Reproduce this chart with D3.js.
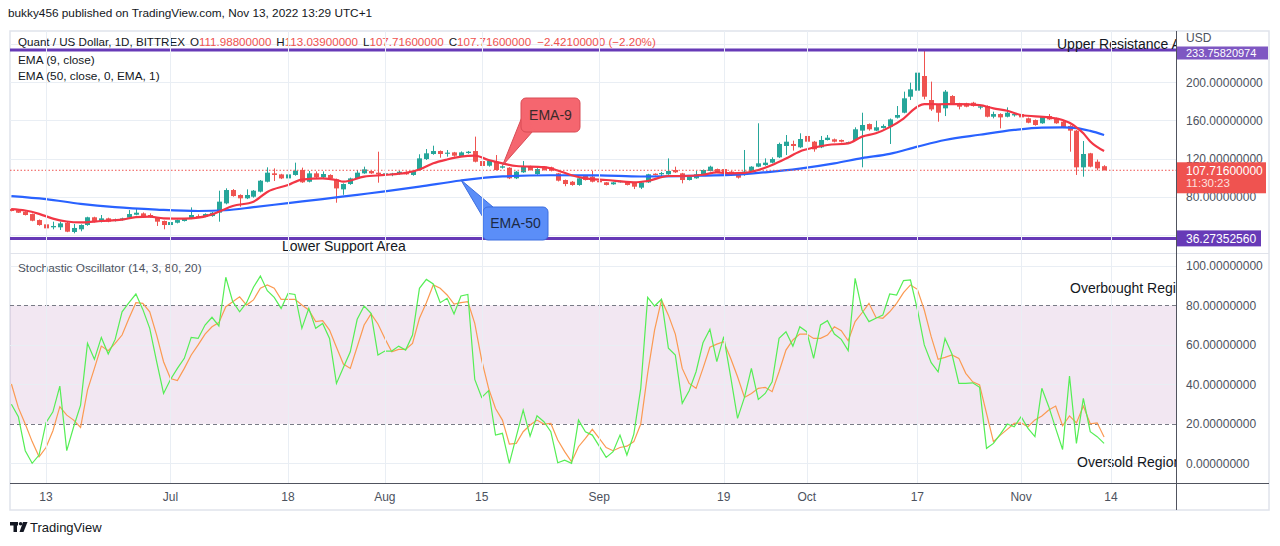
<!DOCTYPE html>
<html>
<head>
<meta charset="utf-8">
<script src="https://cdn.jsdelivr.net/npm/d3@7"></script>
<style>
  body { margin: 0; background: #fff; }
  svg text { font-family: "Liberation Sans", Arial, sans-serif; }
</style>
</head>
<body>
<div id="chart"></div>
<script>
// daily candles, Jun 8 .. Nov 13 2022
var firstDay = '2022-06-08';

var opens = [
  67.1, 65.9, 64.3, 61.8, 55.5, 51.0, 47.9, 47.9, 52.7, 43.0,
  45.8, 50.3, 58.4, 53.8, 57.3, 54.5, 55.5, 58.0, 61.1, 62.5,
  60.8, 58.0, 54.5, 50.3, 52.7, 54.5, 57.0, 59.7, 59.0, 59.7,
  63.3, 73.0, 87.0, 81.8, 78.3, 80.0, 85.3, 95.7, 104.5, 103.4,
  99.2, 102.8, 108.0, 95.7, 104.5, 100.3, 102.8, 98.2, 87.7, 93.3,
  99.2, 104.5, 106.9, 105.2, 102.8, 103.8, 103.8, 105.6, 102.8, 108.0,
  119.5, 124.8, 127.9, 125.0, 126.5, 122.7, 125.8, 127.9, 117.4, 112.5,
  116.7, 110.4, 110.4, 99.3, 105.6, 111.5, 103.8, 111.5, 110.8, 104.5,
  97.5, 95.7, 92.3, 101.7, 101.0, 96.5, 95.1, 93.0, 95.1, 95.7,
  95.0, 89.5, 95.0, 104.1, 103.5, 103.5, 108.0, 104.5, 97.5, 99.3,
  103.5, 107.0, 109.0, 109.0, 106.3, 104.5, 102.8, 106.3, 111.5, 113.2,
  115.7, 121.3, 133.2, 135.3, 131.8, 143.7, 137.7, 131.8, 139.5, 140.2,
  139.5, 136.0, 139.5, 149.3, 156.2, 149.3, 152.1, 153.5, 162.9, 168.1,
  184.9, 191.2, 206.6, 181.4, 176.2, 172.7, 185.6, 177.9, 177.9, 178.6,
  173.4, 175.1, 163.9, 166.7, 163.9, 165.3, 166.7, 162.2, 160.4, 157.0,
  164.6, 162.2, 158.7, 154.2, 149.3, 110.8, 125.5, 116.7, 111.988
];
var highs = [
  67.8, 66.4, 64.8, 62.3, 56.1, 51.6, 53.8, 53.8, 53.5, 51.4,
  51.0, 59.0, 59.0, 60.8, 58.0, 57.0, 58.0, 66.0, 67.1, 63.5,
  62.5, 58.5, 55.0, 58.4, 56.0, 57.5, 68.8, 61.5, 62.5, 64.0,
  86.3, 88.8, 88.0, 82.5, 87.7, 87.0, 97.5, 110.8, 109.7, 104.0,
  104.2, 115.7, 110.5, 107.0, 106.5, 106.5, 103.5, 99.0, 94.0, 100.0,
  108.0, 111.5, 107.5, 127.2, 105.5, 105.0, 107.0, 106.5, 108.0, 124.5,
  130.0, 133.5, 128.5, 129.0, 127.0, 127.5, 128.0, 143.0, 118.0, 118.5,
  123.7, 112.5, 111.0, 107.0, 117.4, 112.5, 110.0, 112.0, 111.5, 105.0,
  98.0, 96.5, 100.0, 102.5, 107.0, 97.0, 95.5, 95.5, 96.8, 96.0,
  95.5, 95.5, 104.0, 104.5, 106.0, 120.2, 111.5, 105.0, 101.5, 107.0,
  108.5, 112.5, 109.5, 109.5, 107.0, 106.0, 129.0, 112.0, 157.0, 120.2,
  121.3, 136.7, 144.7, 138.8, 146.5, 145.0, 138.5, 143.7, 144.7, 141.0,
  140.0, 137.8, 152.8, 168.1, 156.8, 159.7, 155.9, 162.0, 175.1, 190.2,
  199.6, 233.9, 233.2, 200.7, 177.0, 191.9, 186.5, 178.5, 178.5, 179.5,
  176.2, 175.8, 169.2, 167.5, 173.7, 168.0, 168.0, 163.0, 161.0, 164.5,
  166.7, 163.0, 159.5, 155.0, 150.0, 138.4, 126.0, 119.0, 113.039
];
var lows = [
  64.6, 62.9, 60.3, 54.2, 49.6, 42.2, 45.8, 45.1, 42.8, 41.6,
  43.7, 49.5, 53.0, 53.0, 53.2, 54.0, 55.0, 57.5, 60.5, 58.0,
  58.0, 49.3, 45.8, 49.8, 52.0, 54.0, 56.5, 58.0, 58.5, 59.0,
  53.8, 72.0, 80.0, 69.5, 77.5, 79.0, 84.5, 95.0, 96.5, 98.5,
  98.5, 102.0, 94.5, 95.0, 99.5, 99.5, 98.5, 73.7, 82.0, 92.5,
  98.5, 104.0, 104.0, 94.7, 102.0, 101.5, 103.0, 103.0, 102.0, 107.5,
  118.5, 124.0, 120.9, 122.0, 122.0, 122.0, 125.0, 116.0, 111.5, 111.5,
  107.5, 109.5, 98.5, 98.5, 105.0, 107.5, 103.0, 107.5, 106.5, 96.0,
  91.0, 91.5, 91.5, 97.0, 95.0, 94.5, 91.8, 92.5, 94.8, 91.8,
  88.0, 88.0, 94.5, 102.3, 100.5, 103.0, 105.0, 94.0, 97.0, 98.8,
  103.0, 106.5, 104.8, 104.0, 102.3, 99.0, 102.0, 105.8, 111.0, 112.5,
  115.0, 120.5, 123.7, 128.3, 131.0, 137.0, 127.2, 131.0, 139.0, 137.0,
  137.0, 135.5, 139.0, 110.8, 149.3, 148.8, 151.5, 135.3, 162.0, 167.5,
  181.4, 189.0, 182.1, 170.0, 158.7, 164.6, 177.0, 171.6, 173.8, 174.5,
  171.6, 163.2, 162.2, 151.7, 163.2, 164.0, 162.5, 157.0, 154.5, 156.5,
  160.5, 156.5, 152.0, 127.2, 102.8, 101.0, 110.8, 107.7, 107.716
];
var closes = [
  65.0, 63.2, 60.8, 54.8, 50.3, 46.8, 49.3, 52.0, 43.3, 47.2,
  50.3, 58.4, 53.8, 57.3, 53.8, 56.2, 57.3, 61.8, 63.2, 58.4,
  58.4, 53.8, 50.3, 53.4, 55.5, 57.0, 60.8, 58.7, 61.8, 63.2,
  74.8, 87.0, 80.7, 78.3, 81.8, 86.3, 96.8, 105.2, 102.8, 99.2,
  103.4, 107.3, 95.1, 104.5, 100.3, 103.8, 99.2, 88.7, 93.3, 99.2,
  105.2, 108.7, 104.5, 103.4, 104.5, 104.3, 106.2, 103.5, 107.0, 120.2,
  125.5, 127.9, 124.8, 126.2, 123.0, 126.5, 127.2, 116.7, 112.2, 117.8,
  108.0, 111.9, 99.3, 106.3, 111.5, 108.0, 109.0, 108.0, 107.3, 96.8,
  93.3, 92.3, 99.3, 97.5, 95.7, 95.1, 92.3, 95.0, 96.5, 92.3,
  90.5, 95.0, 103.5, 102.8, 104.8, 107.0, 105.6, 97.5, 101.0, 103.5,
  108.0, 111.5, 105.2, 104.5, 102.8, 100.0, 106.3, 111.5, 115.0, 115.7,
  119.5, 135.3, 137.7, 133.2, 140.5, 137.7, 129.7, 139.5, 141.9, 137.7,
  137.7, 137.2, 150.7, 155.2, 150.7, 152.8, 154.2, 161.1, 165.7, 183.2,
  192.6, 210.1, 184.9, 171.6, 168.1, 190.2, 177.9, 174.4, 174.4, 175.1,
  174.8, 163.9, 166.7, 163.2, 168.1, 166.7, 163.2, 157.6, 155.2, 163.9,
  161.1, 157.0, 152.7, 149.3, 110.8, 124.8, 111.5, 109.7, 107.716
];

// EMA readings as [day index from firstDay, value]
var ema9Points = [
  [0, 67.0], [2, 65.5], [4, 62.0], [6, 57.0], [8, 54.0], [10, 53.0], [13, 54.5],
  [16, 56.0], [18, 58.5], [20, 59.0], [22, 57.3], [25, 57.0], [27, 58.0], [29, 61.5],
  [30, 64.3], [32, 70.2], [35, 74.8], [37, 85.0], [40, 92.3], [42, 98.0], [45, 99.3],
  [47, 97.5], [48, 95.8], [51, 101.0], [54, 102.8], [57, 105.0], [59, 108.5], [61, 115.0],
  [63, 119.0], [65, 122.0], [67, 123.0], [69, 118.5], [71, 115.0], [73, 112.2], [77, 111.0],
  [79, 107.5], [81, 102.5], [83, 99.3], [86, 97.5], [90, 95.1], [92, 96.5], [95, 101.7],
  [97, 101.7], [100, 103.0], [102, 105.5], [104, 104.5], [106, 105.0], [108, 108.0],
  [110, 113.2], [112, 120.0], [114, 127.5], [116, 131.5], [118, 134.2], [121, 136.0],
  [123, 143.0], [125, 146.5], [127, 153.0], [129, 162.0], [131, 174.4], [132, 177.2],
  [134, 177.0], [137, 177.2], [140, 176.0], [142, 172.7], [144, 170.2], [146, 165.7],
  [150, 163.2], [152, 160.5], [153, 157.5], [154, 152.8], [155, 146.5], [156, 138.0],
  [158, 128.0]
];
var ema50Points = [
  [0, 80.7], [5, 77.5], [10, 72.5], [15, 69.0], [21, 66.5], [27, 65.0], [31, 65.8],
  [35, 69.0], [40, 73.3], [45, 77.5], [50, 82.0], [54, 85.5], [59, 90.5], [65, 97.0],
  [71, 101.3], [78, 102.5], [85, 102.3], [91, 101.2], [99, 102.0], [104, 102.8],
  [109, 105.6], [114, 109.5], [119, 115.0], [123, 120.5], [127, 125.0], [131, 132.5],
  [135, 139.5], [140, 145.0], [145, 150.0], [149, 152.5], [152, 152.8], [154, 152.0],
  [156, 149.0], [158, 144.7]
];

var stochK = [
  29.9, 23.6, 6.4, 0, 4.2, 20.6, 26.1, 39.1, 6.4, 18.5,
  29.5, 60.8, 52.7, 63.8, 55.4, 62.8, 76.8, 81.4, 85.8, 78,
  68.4, 51.5, 35.4, 42.5, 48.1, 53.2, 63.8, 63.3, 70.1, 74,
  69.6, 94.3, 81.9, 76.8, 81.4, 89.2, 94.9, 87.5, 84.1, 78.5,
  86.1, 85.6, 68.4, 78.5, 68.4, 70.9, 63.3, 40.5, 48.6, 56.5,
  73, 79.7, 76, 54.9, 56.9, 56.9, 59.4, 57.4, 65, 88.7,
  93.2, 90.9, 81.4, 83.6, 75.7, 84.8, 85.6, 42.5, 33.4, 36.8,
  14.3, 15.2, 0, 13.5, 27, 13.8, 24.1, 21.1, 16, 0.3,
  1.6, 0, 21.9, 16, 14.3, 8.7, 3, 5.9, 14.3, 4.2,
  14.8, 38, 84.1, 79.7, 83.1, 58.3, 54.9, 30.4, 36.8, 46.4,
  61.1, 67.9, 51.5, 64.2, 43.9, 22.8, 33.4, 48.1, 32.4, 35.4,
  41.3, 63.3, 66.7, 59.4, 69.2, 66.7, 53.2, 70.1, 72.3, 65.5,
  62.8, 57.1, 93.7, 77.7, 71.8, 73.5, 75.1, 85.8, 85.3, 92.6,
  92.9, 78, 60, 51, 46.4, 63.3, 55.4, 40.5, 40.5, 40.8,
  38.5, 7.6, 10.1, 14.8, 19.9, 18.5, 23.6, 17.7, 13.5, 38,
  28.7, 17.7, 7, 44.2, 10.1, 32.9, 16, 13.5, 10.1
];
var stochD = [
  40.2, 28.2, 19.9, 11, 3.3, 8, 16.5, 28.7, 24.4, 21.9,
  18.2, 37.1, 48.1, 59.4, 57.1, 60.8, 65, 73.5, 81.4, 81.1,
  76.8, 65, 51.5, 43, 41.9, 48.1, 54.9, 60, 65.5, 69.2,
  71.3, 79.4, 81.9, 84.4, 80.2, 82.8, 88.7, 90.4, 88.7, 83.1,
  83.1, 83.1, 80.2, 77.7, 71.8, 72.3, 67.5, 58.8, 50.3, 48.1,
  59.1, 70.1, 75.7, 70.6, 63.3, 56.5, 57.7, 57.7, 60.8, 73.5,
  81.4, 90.4, 88.7, 85.3, 80.7, 81.4, 81.9, 70.9, 52.3, 38,
  27.8, 21.9, 9.7, 10.1, 16, 19.4, 21.9, 19.9, 20.2, 11.8,
  5.9, 0.8, 8.4, 12.6, 17.2, 12.6, 8, 6.4, 8, 8.7,
  11, 19.9, 45.6, 67.5, 82.8, 75.1, 65.5, 48.1, 40.5, 38,
  48.1, 58.8, 60.4, 61.6, 53.2, 43.9, 33.4, 35.4, 38, 38.5,
  36.3, 46.4, 57.4, 62.5, 65.5, 65.5, 63.3, 63.3, 65, 69.2,
  67.2, 62.1, 71.8, 76.3, 81.1, 74, 73.5, 76.8, 81.1, 86.5,
  90.4, 88.2, 77.7, 64.2, 52.7, 53.7, 54.9, 53.2, 45.6, 41.3,
  39.7, 25.3, 11, 14.3, 17.2, 20.2, 20.5, 18.5, 22, 24,
  27, 29, 19, 24, 20.5, 29, 20, 20.5, 13.3
];

var priceTicks = [80, 120, 160, 200];
var priceGrid = [40, 80, 120, 160, 200, 240];
var stochTicks = [0, 20, 40, 60, 80, 100];
var stochGrid = [0, 40, 60, 100];
var timeTicks = ['2022-06-13', '2022-07-01', '2022-07-18', '2022-08-01', '2022-08-15', '2022-09-01',
  '2022-09-19', '2022-10-01', '2022-10-17', '2022-11-01', '2022-11-14'];
var timeLabels = ['13', 'Jul', '18', 'Aug', '15', 'Sep', '19', 'Oct', '17', 'Nov', '14'];

var resistance = 233.75820974;
var support = 36.2735256;
var lastPrice = 107.716;

var svg = d3.select('#chart').append('svg').attr('width', 1280).attr('height', 546);

var left = 10, right = 1176, axisEnd = 1269,
  mainTop = 31, mainBottom = 253, stochBottom = 483, chartBottom = 510;

var parseDay = d3.utcParse('%Y-%m-%d');
var day0 = parseDay(firstDay);
var dayAt = function (i) { return d3.utcDay.offset(day0, i); };

var x = d3.scaleUtc()
  .domain([parseDay('2022-06-13'), parseDay('2022-11-14')])
  .range([46, 1111]);
var y = d3.scaleLinear().domain([80, 200]).range([196.7, 82.3]);
var ys = d3.scaleLinear().domain([0, 100]).range([463.3, 266]);

var bars = closes.map(function (c, i) {
  return { date: dayAt(i), o: opens[i], h: highs[i], l: lows[i], c: c };
});

var defs = svg.append('defs');
defs.append('clipPath').attr('id', 'clipMain').append('rect')
  .attr('x', left).attr('y', mainTop).attr('width', right - left).attr('height', mainBottom - mainTop);
defs.append('clipPath').attr('id', 'clipStoch').append('rect')
  .attr('x', left).attr('y', mainBottom).attr('width', right - left).attr('height', stochBottom - mainBottom);

// top caption
svg.append('text').attr('x', 8).attr('y', 17)
  .style('font-size', '11.8px').attr('fill', '#131722')
  .text('bukky456 published on TradingView.com, Nov 13, 2022 13:29 UTC+1');

// frame
svg.append('rect').attr('x', left).attr('y', mainTop)
  .attr('width', axisEnd - left).attr('height', chartBottom - mainTop)
  .attr('fill', '#fff').attr('stroke', '#e0e3eb').attr('stroke-width', 1.5);

var main = svg.append('g').attr('clip-path', 'url(#clipMain)');
var stoch = svg.append('g').attr('clip-path', 'url(#clipStoch)');

var gridColor = '#e9eef4';
var tickDates = timeTicks.map(parseDay);

// vertical grid
svg.append('g').selectAll('line').data(tickDates).enter().append('line')
  .attr('x1', function (d) { return Math.round(x(d)) + 0.5; })
  .attr('x2', function (d) { return Math.round(x(d)) + 0.5; })
  .attr('y1', mainTop).attr('y2', stochBottom)
  .attr('stroke', gridColor);

main.append('g').selectAll('line').data(priceGrid).enter().append('line')
  .attr('x1', left).attr('x2', right)
  .attr('y1', function (d) { return Math.round(y(d)) + 0.5; })
  .attr('y2', function (d) { return Math.round(y(d)) + 0.5; })
  .attr('stroke', gridColor);

// stochastic band and levels
stoch.append('rect')
  .attr('x', left).attr('width', right - left)
  .attr('y', ys(80)).attr('height', ys(20) - ys(80))
  .attr('fill', 'rgba(150, 60, 150, 0.12)');

stoch.append('g').selectAll('line').data(stochGrid).enter().append('line')
  .attr('x1', left).attr('x2', right)
  .attr('y1', function (d) { return Math.round(ys(d)) + 0.5; })
  .attr('y2', function (d) { return Math.round(ys(d)) + 0.5; })
  .attr('stroke', gridColor);

stoch.append('g').selectAll('line').data([80, 20]).enter().append('line')
  .attr('x1', left).attr('x2', right)
  .attr('y1', function (d) { return Math.round(ys(d)) + 0.5; })
  .attr('y2', function (d) { return Math.round(ys(d)) + 0.5; })
  .attr('stroke', '#787b86').attr('stroke-dasharray', '4,3');

// candles
var up = '#26a69a', down = '#ef5350';
main.append('g').selectAll('line').data(bars).enter().append('line')
  .attr('x1', function (d) { return Math.round(x(d.date)) + 0.5; })
  .attr('x2', function (d) { return Math.round(x(d.date)) + 0.5; })
  .attr('y1', function (d) { return y(d.h); })
  .attr('y2', function (d) { return y(d.l); })
  .attr('stroke', function (d) { return d.c >= d.o ? up : down; });

main.append('g').selectAll('rect').data(bars).enter().append('rect')
  .attr('x', function (d) { return Math.round(x(d.date)) - 2; })
  .attr('width', 5)
  .attr('y', function (d) { return y(Math.max(d.o, d.c)); })
  .attr('height', function (d) { return Math.max(1, y(Math.min(d.o, d.c)) - y(Math.max(d.o, d.c))); })
  .attr('fill', function (d) { return d.c >= d.o ? up : down; });

// EMAs
var emaLine = d3.line()
  .curve(d3.curveMonotoneX)
  .x(function (d) { return x(dayAt(d[0])); })
  .y(function (d) { return y(d[1]); });

main.append('path').datum(ema50Points)
  .attr('d', emaLine).attr('fill', 'none')
  .attr('stroke', '#2962ff').attr('stroke-width', 2.2);
main.append('path').datum(ema9Points)
  .attr('d', emaLine).attr('fill', 'none')
  .attr('stroke', '#f23645').attr('stroke-width', 2.2);

// last price
main.append('line')
  .attr('x1', left).attr('x2', right)
  .attr('y1', y(lastPrice)).attr('y2', y(lastPrice))
  .attr('stroke', '#ef5350').attr('stroke-dasharray', '1.5,2');

// horizontal drawings
main.selectAll('.level').data([resistance, support]).enter().append('line')
  .attr('class', 'level')
  .attr('x1', left).attr('x2', right)
  .attr('y1', function (d) { return y(d); })
  .attr('y2', function (d) { return y(d); })
  .attr('stroke', '#673ab7').attr('stroke-width', 3);

// label runs past the price scale, only this much shows
main.append('text').attr('x', 1057).attr('y', y(resistance) - 1.5)
  .style('font-size', '14px').attr('fill', '#131722')
  .text('Upper Resistance A');
main.append('text').attr('x', 282).attr('y', y(support) + 12.5)
  .style('font-size', '14px').attr('fill', '#131722')
  .text('Lower Support Area');

// callouts
var ema9Tip = [dayAt(71), 112.5];
main.append('path')
  .attr('d', 'M' + x(ema9Tip[0]) + ',' + y(ema9Tip[1]) + 'L524,112L533,131Z')
  .attr('fill', '#f5666f').attr('stroke', '#d94b55');
main.append('rect').attr('x', 521).attr('y', 98).attr('width', 59).attr('height', 34).attr('rx', 5)
  .attr('fill', '#f5666f').attr('stroke', '#d94b55');
main.append('path')
  .attr('d', 'M533.5,131L523.5,112.5')
  .attr('stroke', '#f5666f').attr('stroke-width', 2);
main.append('text').attr('x', 550.5).attr('y', 119.5).attr('text-anchor', 'middle')
  .style('font-size', '14px').attr('fill', '#3a2a2a').text('EMA-9');

var ema50Tip = [dayAt(65), 97.6];
main.append('path')
  .attr('d', 'M' + x(ema50Tip[0]) + ',' + y(ema50Tip[1]) + 'L484,219L493,207Z')
  .attr('fill', '#5b8ef8').attr('stroke', '#3d6ee0');
main.append('rect').attr('x', 483).attr('y', 207).attr('width', 65).attr('height', 33).attr('rx', 5)
  .attr('fill', '#5b8ef8').attr('stroke', '#3d6ee0');
main.append('path')
  .attr('d', 'M484.5,218L492.5,208.5')
  .attr('stroke', '#5b8ef8').attr('stroke-width', 2);
main.append('text').attr('x', 515.5).attr('y', 228).attr('text-anchor', 'middle')
  .style('font-size', '14px').attr('fill', '#1c2a44').text('EMA-50');

// legend
var legend = main.append('text').attr('x', 18).attr('y', 45.5)
  .style('font-size', '11.6px').attr('fill', '#131722');
legend.append('tspan').text('Quant / US Dollar, 1D, BITTREX');
[['O', '111.98800000'], ['H', '113.03900000'], ['L', '107.71600000'], ['C', '107.71600000']]
  .forEach(function (p) {
    legend.append('tspan').attr('dx', 5).text(p[0]);
    legend.append('tspan').attr('fill', '#ef5350').text(p[1]);
  });
legend.append('tspan').attr('dx', 6).attr('fill', '#ef5350').text('\u22122.42100000 (\u22122.20%)');

main.append('text').attr('x', 18).attr('y', 63.5)
  .style('font-size', '11.8px').attr('fill', '#131722').text('EMA (9, close)');
main.append('text').attr('x', 18).attr('y', 80)
  .style('font-size', '11.8px').attr('fill', '#131722').text('EMA (50, close, 0, EMA, 1)');

// stochastic lines
var stochLine = d3.line()
  .x(function (d, i) { return x(dayAt(i)); })
  .y(function (d) { return ys(d); });

stoch.append('path').datum(stochD)
  .attr('d', stochLine).attr('fill', 'none')
  .attr('stroke', '#fb9a52').attr('stroke-width', 1.2);
stoch.append('path').datum(stochK)
  .attr('d', stochLine).attr('fill', 'none')
  .attr('stroke', '#55ee55').attr('stroke-width', 1.2);

stoch.append('text').attr('x', 18).attr('y', 272)
  .style('font-size', '11.8px').attr('fill', '#4c525e')
  .text('Stochastic Oscillator (14, 3, 80, 20)');
stoch.append('text').attr('x', 1070).attr('y', 293)
  .style('font-size', '14px').attr('fill', '#131722').text('Overbought Region');
stoch.append('text').attr('x', 1077).attr('y', 467)
  .style('font-size', '14px').attr('fill', '#131722').text('Oversold Region');

// pane separator and axes lines
svg.append('line').attr('x1', left).attr('x2', axisEnd)
  .attr('y1', mainBottom + 0.5).attr('y2', mainBottom + 0.5).attr('stroke', '#e0e3eb');
svg.append('line').attr('x1', right + 0.5).attr('x2', right + 0.5)
  .attr('y1', mainTop).attr('y2', chartBottom).attr('stroke', '#50535e');
svg.append('line').attr('x1', left).attr('x2', axisEnd)
  .attr('y1', stochBottom + 0.5).attr('y2', stochBottom + 0.5).attr('stroke', '#50535e');

// price axis
var axisText = '#4c525e';
var fmt = d3.format('.8f');
svg.append('g').selectAll('text').data(priceTicks).enter().append('text')
  .attr('x', 1186).attr('y', function (d) { return y(d); }).attr('dy', '0.35em')
  .style('font-size', '12px').attr('fill', axisText)
  .text(function (d) { return fmt(d); });

svg.append('g').selectAll('text').data(stochTicks).enter().append('text')
  .attr('x', 1186).attr('y', function (d) { return ys(d); }).attr('dy', '0.35em')
  .style('font-size', '12px').attr('fill', axisText)
  .text(function (d) { return fmt(d); });

// price labels
svg.append('rect').attr('x', right + 1).attr('y', 46.5)
  .attr('width', 91).attr('height', 13).attr('fill', '#7e57c2');
svg.append('text').attr('x', 1186).attr('y', 53).attr('dy', '0.35em')
  .style('font-size', '11px').attr('fill', '#fff').text(fmt(resistance));
svg.append('text').attr('x', 1186).attr('y', 42)
  .style('font-size', '12px').attr('fill', axisText).text('USD');

svg.append('rect').attr('x', right + 1).attr('y', y(support) - 8)
  .attr('width', 84).attr('height', 16).attr('fill', '#673ab7');
svg.append('text').attr('x', 1186).attr('y', y(support)).attr('dy', '0.35em')
  .style('font-size', '12px').attr('fill', '#fff').text(fmt(support));

svg.append('rect').attr('x', right + 1).attr('y', y(lastPrice) - 8)
  .attr('width', 89).attr('height', 31).attr('fill', '#ef5350');
svg.append('text').attr('x', 1186).attr('y', y(lastPrice) + 0.5).attr('dy', '0.35em')
  .style('font-size', '12px').attr('fill', '#fff').text(fmt(lastPrice));
svg.append('text').attr('x', 1186).attr('y', y(lastPrice) + 12.5).attr('dy', '0.35em')
  .style('font-size', '11.5px').attr('fill', '#fde0df').text('11:30:23');

// time axis
svg.append('g').selectAll('text').data(tickDates).enter().append('text')
  .attr('x', function (d) { return x(d); }).attr('y', 501)
  .attr('text-anchor', 'middle')
  .style('font-size', '12px').attr('fill', axisText)
  .text(function (d, i) { return timeLabels[i]; });

// logo
var logo = svg.append('g').attr('fill', '#131722');
logo.append('rect').attr('x', 10).attr('y', 522).attr('width', 8).attr('height', 3.5);
logo.append('rect').attr('x', 13.5).attr('y', 522).attr('width', 3.5).attr('height', 10);
logo.append('circle').attr('cx', 20.6).attr('cy', 523.8).attr('r', 1.8);
logo.append('path').attr('d', 'M23,522L27.5,522L23.5,532L19.5,532Z');
svg.append('text').attr('x', 30).attr('y', 532)
  .style('font-size', '13px').attr('fill', '#131722').text('TradingView');
</script>
</body>
</html>
